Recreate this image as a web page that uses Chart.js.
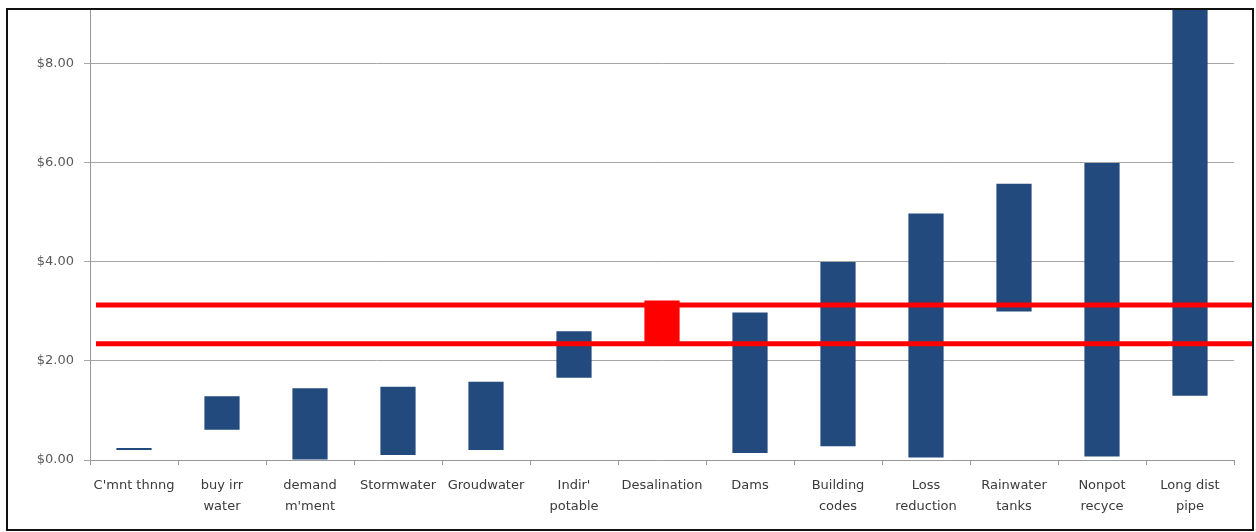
<!DOCTYPE html>
<html>
<head>
<meta charset="utf-8">
<script src="https://cdn.jsdelivr.net/npm/chart.js@4"></script>
<style>
  html, body { margin: 0; padding: 0; background: #fff; }
  #wrap { position: relative; width: 1256px; height: 532px; }
  #frame {
    position: absolute; left: 6px; top: 8px; width: 1248px; height: 523px;
    border: 2px solid #111; box-sizing: border-box; pointer-events: none;
  }
</style>
</head>
<body>
<div id="wrap">
  <canvas id="chart" width="1256" height="532"></canvas>
  <div id="frame"></div>
</div>
<script>
// cost ranges per option ($ per kL)
const categories = [
  "C'mnt thnng", ["buy irr", "water"], ["demand", "m'ment"], "Stormwater", "Groudwater",
  ["Indir'", "potable"], "Desalination", "Dams", ["Building", "codes"], ["Loss", "reduction"],
  ["Rainwater", "tanks"], ["Nonpot", "recyce"], ["Long dist", "pipe"]
];
const lowValues  = [0.20, 0.61, 0.00, 0.10, 0.20, 1.66, 2.34, 0.14, 0.28, 0.05, 3.00, 0.07, 1.30];
const highValues = [0.24, 1.29, 1.45, 1.48, 1.58, 2.60, 3.22, 2.98, 4.00, 4.98, 5.58, 6.00, 9.30];
const highlight = 'Desalination';

// desalination band drawn across the whole chart
const bandValues = [3.13, 2.35];

const yTicks = [0, 2, 4, 6, 8];
const yMax = 9.09;

const barColors = categories.map(c => c === highlight ? '#ff0000' : '#224a7c');

const bandLines = {
  id: 'bandLines',
  afterDatasetsDraw(chart) {
    const ctx = chart.ctx;
    const y = chart.scales.y;
    ctx.save();
    ctx.strokeStyle = '#ff0000';
    ctx.lineWidth = 5;
    bandValues.forEach(v => {
      const py = y.getPixelForValue(v);
      ctx.beginPath();
      ctx.moveTo(chart.chartArea.left + 6, py);
      ctx.lineTo(chart.width - 3, py);
      ctx.stroke();
    });
    ctx.restore();
  }
};

new Chart(document.getElementById('chart'), {
  type: 'bar',
  data: {
    labels: categories,
    datasets: [{
      data: lowValues.map((lo, i) => [lo, highValues[i]]),
      backgroundColor: barColors,
      borderWidth: 0,
      barPercentage: 0.4,
      categoryPercentage: 1.0
    }]
  },
  options: {
    responsive: false,
    animation: false,
    layout: { padding: { left: 0, top: 10, right: 22, bottom: 0 } },
    plugins: { legend: { display: false }, tooltip: { enabled: false } },
    scales: {
      x: {
        afterFit: s => { s.height = 72; },
        grid: { drawOnChartArea: false, drawTicks: true, tickLength: 5, color: '#999' },
        border: { color: '#999', width: 1 },
        ticks: {
          color: '#3a3a3a', padding: 10, maxRotation: 0, autoSkip: false,
          font: { family: 'DejaVu Sans', size: 13, lineHeight: 1.6 }
        }
      },
      y: {
        min: 0, max: yMax,
        afterFit: s => { s.width = 90; s.paddingTop = 0; },
        afterBuildTicks: s => { s.ticks = yTicks.map(v => ({ value: v })); },
        grid: { color: '#a6a6a6', tickLength: 6 },
        border: { color: '#999', width: 1 },
        ticks: {
          color: '#595959', padding: 10,
          font: { family: 'DejaVu Sans', size: 13 },
          callback: v => '$' + Number(v).toFixed(2)
        }
      }
    }
  },
  plugins: [bandLines]
});
</script>
</body>
</html>
